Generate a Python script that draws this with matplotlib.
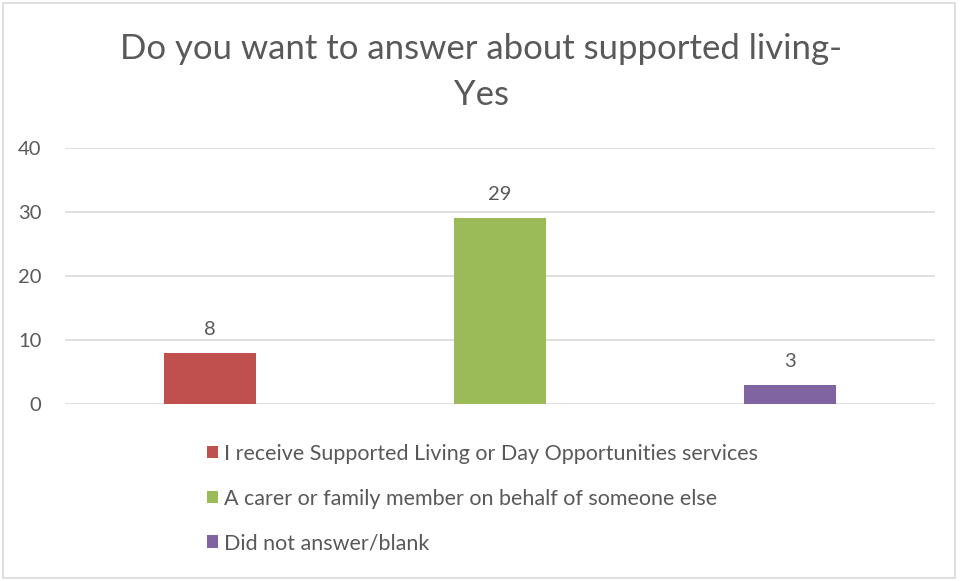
import matplotlib
matplotlib.use("Agg")
import matplotlib.pyplot as plt
from matplotlib.patches import Rectangle

categories = [
    "I receive Supported Living or Day Opportunities services",
    "A carer or family member on behalf of someone else",
    "Did not answer/blank",
]
values = [8, 29, 3]
colors = ["#C0504D", "#9BBB59", "#8064A2"]
yticks = [0, 10, 20, 30, 40]
title_lines = ["Do you want to answer about supported living-", "Yes"]

plt.rcParams["font.family"] = ["Lato", "DejaVu Sans"]
text_color = "#595959"

W, H = 963, 581
fig = plt.figure(figsize=(W / 100, H / 100), dpi=100)
fig.patch.set_facecolor("white")

# outer chart border
fig.add_artist(Rectangle((3 / W, 3 / H), (955 - 3) / W, (578 - 3) / H,
                         transform=fig.transFigure, fill=False,
                         edgecolor="#D9D9D9", linewidth=1.2))

ax = fig.add_axes([65 / W, (H - 404) / H, (935 - 65) / W, (404 - 148) / H])
x = list(range(len(values)))
bars = ax.bar(x, values, width=0.315, color=colors, zorder=3)
ax.set_xlim(-0.5, len(values) - 0.5)
ax.set_ylim(0, 40)
ax.set_yticks(yticks)
ax.set_xticks([])
ax.yaxis.grid(True, color="#D9D9D9", linewidth=1.2, zorder=0)
for s in ax.spines.values():
    s.set_visible(False)
ax.tick_params(axis="y", length=0, pad=17, labelsize=14.5, labelcolor=text_color)

for xi, v in zip(x, values):
    ax.annotate(str(v), (xi, v), xytext=(0, 11), textcoords="offset points",
                ha="center", va="bottom", fontsize=14.5, color=text_color)

# two-line title
for i, line in enumerate(title_lines):
    fig.text(481 / W, 1 - (49 + 46 * i) / H, line, ha="center", va="center",
             fontsize=25, color=text_color)

leg = fig.legend(bars.patches, categories, loc="upper left",
                 bbox_to_anchor=(196 / W, 1 - 433 / H),
                 frameon=False, fontsize=15.5, labelcolor=text_color,
                 handlelength=0.5, handleheight=0.5, handletextpad=0.3,
                 labelspacing=1.15, borderpad=0)

fig.savefig("out.png", dpi=100, facecolor="white")
